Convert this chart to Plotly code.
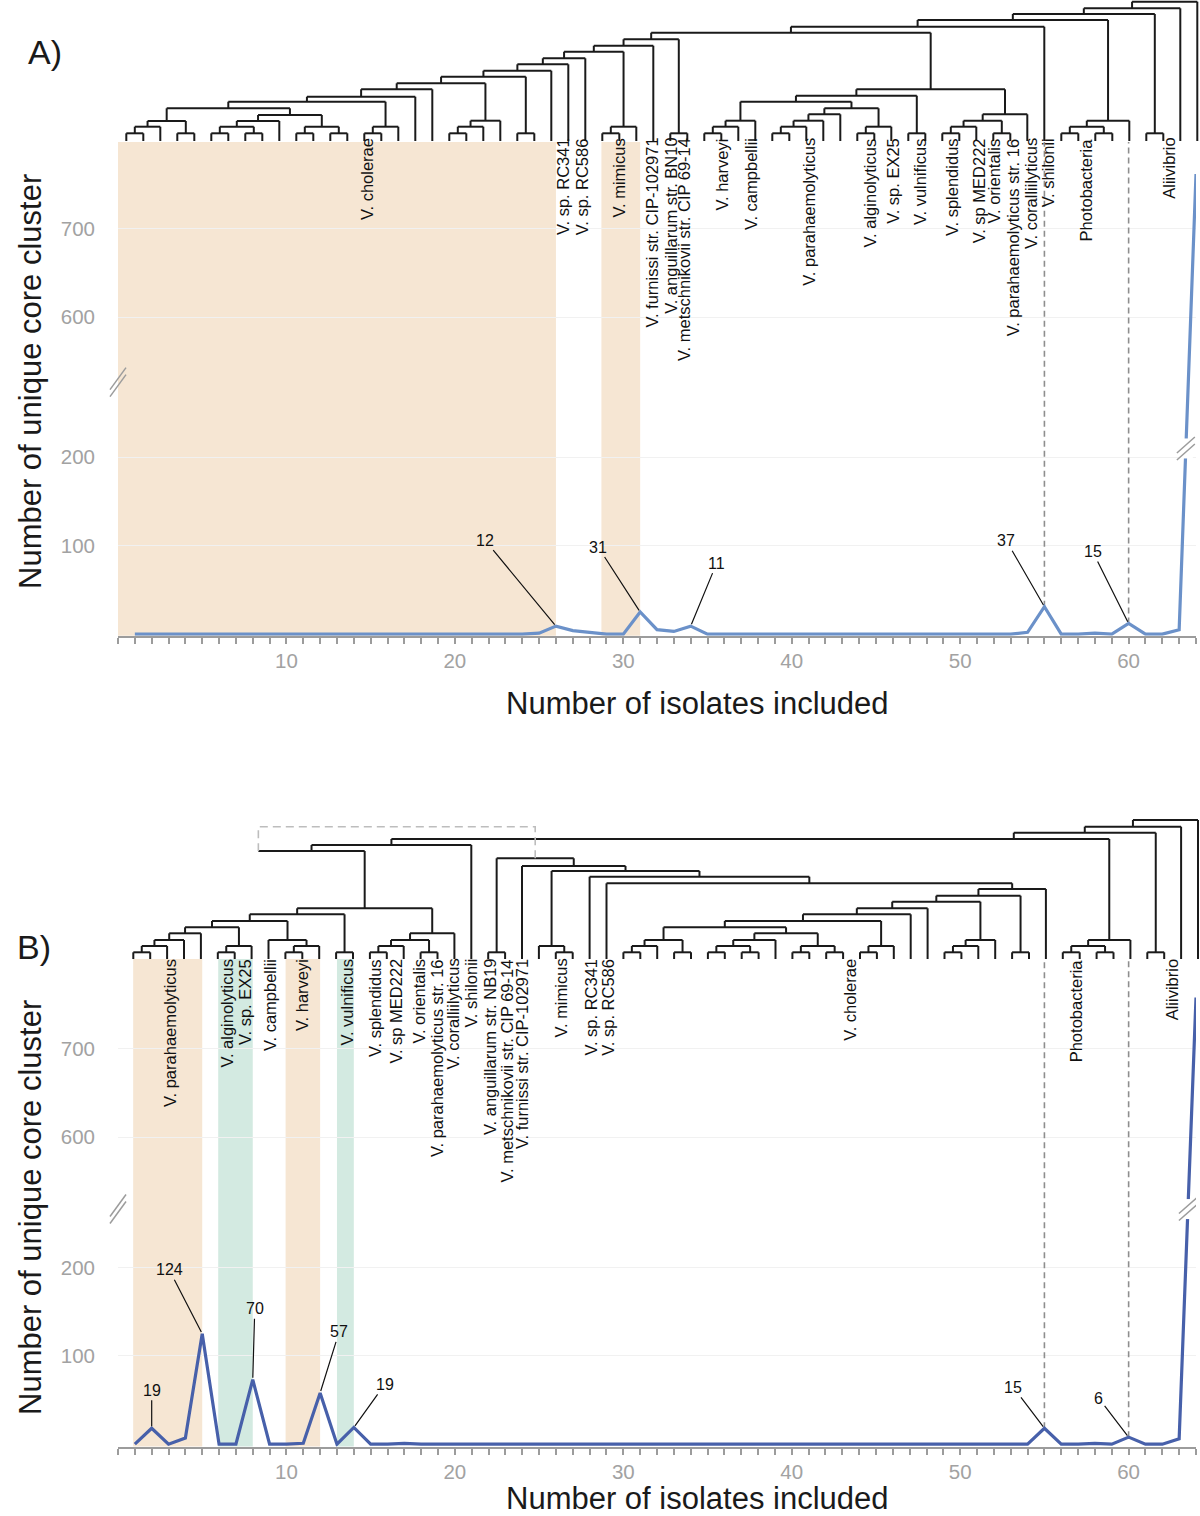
import plotly.graph_objects as go

W, H = 1200, 1516

# ======================= DATA =======================
ISOLATES = list(range(1, 65))

# unique core clusters per number of isolates
CORE_A = ([0] * 24 + [1, 9, 4, 2, 0, 0, 25, 5, 3, 9] + [0] * 19 +
          [2, 31, 0, 0, 1, 0, 12, 0, 0, 5, 762])
CORE_B = ([0, 18, 0, 7, 125, 0, 0, 73, 0, 0, 1, 58, 0, 19, 0, 0, 1] + [0] * 36 +
          [0, 18, 0, 0, 1, 0, 8, 0, 0, 6, 758])

PEAK_X_A = [26, 31, 34, 55, 60]
PEAK_TEXT_A = ["12", "31", "11", "37", "15"]
PEAK_X_B = [2, 5, 8, 12, 14, 55, 60]
PEAK_TEXT_B = ["19", "124", "70", "57", "19", "15", "6"]

GUIDE_X = [55, 60]
Y_TICKS = [100, 200, 600, 700]
X_LABELLED = [10, 20, 30, 40, 50, 60]

SHADE_A = [(0, 26, "orange"), (28.7, 31, "orange")]
SHADE_B = [(0.9, 5, "orange"), (5.95, 8, "green"), (9.95, 12, "orange"), (13, 14, "green")]

TAXA_A = ["V. cholerae", "V. sp. RC341", "V. sp. RC586", "V. mimicus",
          "V. furnissi str. CIP-102971", "V. anguillarum str. BN10",
          "V. metschnikovii str. CIP 69-14", "V. harveyi", "V. campbellii",
          "V. parahaemolyticus", "V. alginolyticus", "V. sp. EX25", "V. vulnificus",
          "V. splendidus", "V. sp MED222", "V. orientalis",
          "V. parahaemolyticus str. 16", "V. coralliilyticus", "V. shilonii",
          "Photobacteria", "Aliivibrio"]
TAXA_LEAF_A = [15.16, 26.66, 27.79, 29.98, 31.9, 33.03, 33.77, 36.07, 37.75, 41.14,
               44.74, 46.09, 47.66, 49.57, 51.15, 52.04, 53.18, 54.19, 55.21, 57.45, 62.29]

TAXA_B = ["V. parahaemolyticus", "V. alginolyticus", "V. sp. EX25", "V. campbellii",
          "V. harveyi", "V. vulnificus", "V. splendidus", "V. sp MED222", "V. orientalis",
          "V. parahaemolyticus str. 16", "V. coralliilyticus", "V. shilonii",
          "V. anguillarum str. NB19", "V. metschnikovii str. CIP 69-14",
          "V. furnissi str. CIP-102971", "V. mimicus", "V. sp. RC341", "V. sp. RC586",
          "V. cholerae", "Photobacteria", "Aliivibrio"]
TAXA_LEAF_B = [3.17, 6.49, 7.61, 9.09, 10.98, 13.59, 15.3, 16.49, 17.85, 18.97, 19.86,
               20.93, 22.1, 23.11, 24.0, 26.25, 28.03, 29.04, 43.4, 56.77, 62.45]

# dendrograms: [height, left, right(, node position)] ; leaves = isolate index
TREE_A = [139.3, [132.7, [127.0, [121.0, [114.3, [108.3,
    [101.7, [95.3, [89.3, [82.7, [76.7, [70.3, [64.3, [57.7, [51.7, [44.3, [39.3,
        [32.7, [20.0, [14.3, [7.7, 1, 2], 3], [7.7, 4, 5]],
               [26.0, [20.0, [14.3, [7.7, 6, 7], [7.7, 8, 9]], 10],
                      [14.3, [7.7, 11, 12], [7.7, 13, 14]]]],
        [14.3, [7.7, 15, 16], 17]], 18], 19],
        [20.3, [14.3, [7.7, 20, 21], 22], 23]],
        [7.7, 24, 25]], 26], 27], 28],
        [14.3, [7.7, 29, 30], 31]], 32], [7.7, 33, 34]],
    [51.7, [45.3, [39.3, [20.3, [14.3, [7.7, 35, 36], 37], 38],
                         [32.7, [26.7, [20.3, [14.3, [7.7, 39, 40], 41], 42], 43],
                                [14.3, [7.7, 44, 45], 46]]],
                  [7.7, 47, 48]],
           [26.7, [20.3, [14.3, [7.7, 49, 50], 51], [7.7, 52, 53]], 54]]],
    55],
    [20.3, [14.3, [7.7, 56, 57], [7.7, 58, 59]], 60]],
    [7.7, 61, 62]], 63], 64]

CHOLERAE_B = [70.0, [63.3, [57.3, [50.7, [44.7, [38.0,
    [31.7, [19.0, [13.0, [6.7, 30, 31], 32], [6.7, 33, 34]],
           [25.7, [19.0, [13.0, [6.7, 35, 36], [6.7, 37, 38]], 39],
                  [13.0, [6.7, 40, 41], [6.7, 42, 43]]]],
    [13.0, [6.7, 44, 45], 46]], 47], 48],
    [19.0, [13.0, [6.7, 49, 50], 51], 52]],
    [6.7, 53, 54]], 55]
CLADE_B = [100.7, [6.7, 22, 23],
           [93.0, 24, [88.0, [13.0, 25, [6.7, 26, 27]],
                       [82.3, 28, [75.7, 29, CHOLERAE_B]]]]]
LEFT_B = [50.7,
          [44.7, [38.0, [31.7, [25.7, [19.0, [13.0, [6.7, 1, 2], 3], 4], 5],
                               [13.0, [6.7, 6, 7], 8]],
                        [19.0, 9, [13.0, [6.7, 10, 11], 12]]],
                 [6.7, 13, 14]],
          [25.7, [19.0, [13.0, [6.7, 15, 16], 17], [6.7, 18, 19]], 20]]
# moved clade (dashed link): corner position / height of the dashed box
LINK_B = {"tree": CLADE_B, "x": 8.4, "top": 132.3}
TREE_B = [139.0, [132.3, [126.3, [120.0, [114.0, [108.0, LINK_B, LEFT_B], 21],
                                   [19.0, [13.0, [6.7, 56, 57], [6.7, 58, 59]], 60], 53.1],
                          [6.7, 61, 62]], 63], 64]

# ======================= STYLE / LAYOUT =======================
FONT = "Liberation Sans, Arial, Helvetica, sans-serif"
COL = {"A": "#6B91C9", "B": "#4760AA"}
SHADE_COL = {"orange": "#F6E6D3", "green": "#D3EAE1"}
TICK_GREY = "#A2A2A2"
AXIS_GREY = "#9C9C9C"
B1, B2 = 250.0, 560.0

P = {
    "A": dict(xa="x", ya="y", xd="x2", yd="y2", top=142, bottom=635.7, zero=634.1,
              ppu=0.884, off=241.5, dtop=0, dbot=146, dbase=141, leaf1=126.3, step=17.0,
              label_top=136, axis_brk=285, line_brk=210, ytitle=382, xtitle=703,
              letter=("A)", 26, 31), core=CORE_A, peaks=PEAK_X_A, ptext=PEAK_TEXT_A,
              poff=[(-71, -86), (-42, -65), (26, -63), (-38, -66), (-36, -72)],
              shade=SHADE_A, taxa=TAXA_A, tleaf=TAXA_LEAF_A, tree=TREE_A),
    "B": dict(xa="x3", ya="y3", xd="x4", yd="y4", top=959, bottom=1446.5, zero=1444.2,
              ppu=0.884, off=252.7, dtop=812, dbot=964, dbase=959, leaf1=133.3, step=16.9,
              label_top=957, axis_brk=266, line_brk=266, ytitle=1208, xtitle=1498,
              letter=("B)", 15, 926), core=CORE_B, peaks=PEAK_X_B, ptext=PEAK_TEXT_B,
              poff=[(0, -38), (-33, -64), (2, -71), (19, -61), (31, -43), (-31, -41), (-30, -39)],
              shade=SHADE_B, taxa=TAXA_B, tleaf=TAXA_LEAF_B, tree=TREE_B),
}


def squash(v, off):
    if v <= B1:
        return v
    if v >= B2:
        return v - off
    return B1 + (v - B1) * ((B2 - off) - B1) / (B2 - B1)


def layout_tree(node, segs, dsegs):
    if isinstance(node, (int, float)):
        return ("pt", float(node), 0.0)
    if isinstance(node, dict):
        _, sx, sh = layout_tree(node["tree"], segs, dsegs)
        return ("link", sx, sh, node["x"], node["top"])
    h = node[0]
    xs = []
    for child in (node[1], node[2]):
        r = layout_tree(child, segs, dsegs)
        if r[0] == "link":
            _, sx, sh, lx, top = r
            dsegs += [(sx, sh), (sx, top), (lx, top), (lx, h), None]
            xs.append(lx)
        else:
            _, cx, ch = r
            segs += [(cx, ch), (cx, h), None]
            xs.append(cx)
    segs += [(xs[0], h), (xs[1], h), None]
    x = node[3] if len(node) > 3 else (xs[0] + xs[1]) / 2
    return ("pt", x, h)


def unzip(segs):
    xs, ys = [], []
    for s in segs:
        if s is None:
            xs.append(None)
            ys.append(None)
        else:
            xs.append(s[0])
            ys.append(s[1])
    return xs, ys


fig = go.Figure()
layout = dict(width=W, height=H, margin=dict(l=0, r=0, t=0, b=0), showlegend=False,
              paper_bgcolor="white", plot_bgcolor="rgba(0,0,0,0)",
              font=dict(family=FONT, color="#111111"))
shapes, annots = [], []

for key in ("A", "B"):
    p = P[key]
    xa, ya, xd, yd = p["xa"], p["ya"], p["xd"], p["yd"]
    xn = lambda a: "xaxis" + a[1:]
    yn = lambda a: "yaxis" + a[1:]
    f_bot = (p["zero"] - p["bottom"]) / p["ppu"]
    f_top = (p["zero"] - p["top"]) / p["ppu"]

    # ---- data axes ----
    layout[xn(xa)] = dict(domain=[118 / W, 1196 / W], range=[0, 64], anchor=ya,
                          showgrid=False, zeroline=False, showline=True,
                          linecolor=AXIS_GREY, linewidth=2, ticks="outside", ticklen=6,
                          tickwidth=1.5, tickcolor=AXIS_GREY, tickmode="array",
                          tickvals=list(range(0, 65)),
                          ticktext=[str(v) if v in X_LABELLED else "" for v in range(0, 65)],
                          tickfont=dict(size=20.5, color=TICK_GREY, family=FONT))
    layout[yn(ya)] = dict(domain=[1 - p["bottom"] / H, 1 - p["top"] / H],
                          range=[f_bot, f_top], anchor=xa, showgrid=True,
                          gridcolor="#F1F1F1", gridwidth=1, zeroline=False, showline=False,
                          ticks="", tickmode="array",
                          tickvals=[squash(v, p["off"]) for v in Y_TICKS],
                          ticktext=[str(v) for v in Y_TICKS], ticklabelstandoff=22,
                          tickfont=dict(size=20.5, color=TICK_GREY, family=FONT))
    # ---- dendrogram axes ----
    layout[xn(xd)] = dict(domain=[100 / W, 1.0], anchor=yd, visible=False,
                          range=[1 + (100 - p["leaf1"]) / p["step"],
                                 1 + (1200 - p["leaf1"]) / p["step"]])
    layout[yn(yd)] = dict(domain=[1 - p["dbot"] / H, 1 - p["dtop"] / H], anchor=xd,
                          visible=False,
                          range=[p["dbase"] - p["dbot"], p["dbase"] - p["dtop"]])

    # ---- shading ----
    for x0, x1, c in p["shade"]:
        shapes.append(dict(type="rect", xref=xa, yref=ya + " domain", x0=x0, x1=x1,
                           y0=0, y1=1, fillcolor=SHADE_COL[c], line=dict(width=0),
                           layer="below"))

    core = p["core"]
    fvals = [squash(v, p["off"]) for v in core]

    # ---- dashed guides ----
    for gx in GUIDE_X:
        fig.add_trace(go.Scatter(x=[gx, gx], y=[fvals[gx - 1], f_top], xaxis=xa, yaxis=ya,
                                 mode="lines", hoverinfo="skip",
                                 line=dict(color="#8E8E8E", width=1.6, dash="6px,4px")))

    # ---- main line ----
    fig.add_trace(go.Scatter(x=ISOLATES, y=fvals, xaxis=xa, yaxis=ya, mode="lines",
                             hoverinfo="skip", line=dict(color=COL[key], width=3.2)))

    # ---- peak labels ----
    for (px_, txt, (ax, ay)) in zip(p["peaks"], p["ptext"], p["poff"]):
        annots.append(dict(x=px_, y=fvals[px_ - 1], xref=xa, yref=ya, text=txt,
                           showarrow=True, arrowhead=0, arrowwidth=1.2,
                           arrowcolor="#111111", ax=ax, ay=ay, standoff=2,
                           font=dict(size=16, color="#111111", family=FONT)))

    # ---- dendrogram ----
    segs, dsegs = [], []
    layout_tree(p["tree"], segs, dsegs)
    sx, sy = unzip(segs)
    fig.add_trace(go.Scatter(x=sx, y=sy, xaxis=xd, yaxis=yd, mode="lines",
                             hoverinfo="skip", line=dict(color="#1A1A1A", width=2)))
    if dsegs:
        dx, dy = unzip(dsegs)
        fig.add_trace(go.Scatter(x=dx, y=dy, xaxis=xd, yaxis=yd, mode="lines",
                                 hoverinfo="skip",
                                 line=dict(color="#BDBDBD", width=1.6, dash="8px,5px")))

    # ---- taxon labels ----
    for name, lx in zip(p["taxa"], p["tleaf"]):
        annots.append(dict(x=lx, xref=xd, y=1 - p["label_top"] / H, yref="paper",
                           text=name, showarrow=False, textangle=-90,
                           xanchor="center", yanchor="top",
                           font=dict(size=16.5, color="#111111", family=FONT)))

    # ---- axis break marks ----
    for dyo in (-3.5, 3.5):
        shapes.append(dict(type="line", xref="paper", xanchor=118 / W, xsizemode="pixel",
                           yref=ya, yanchor=p["axis_brk"], ysizemode="pixel",
                           x0=-8, x1=8, y0=-11 + dyo, y1=11 + dyo,
                           line=dict(color=AXIS_GREY, width=1.5)))
    # break on the steep final segment of the line
    fb = p["line_brk"]
    xb = 63 + (fb - fvals[62]) / (fvals[63] - fvals[62])
    shapes.append(dict(type="rect", xref=xa, xanchor=xb, xsizemode="pixel",
                       yref=ya, yanchor=fb, ysizemode="pixel", x0=-7, x1=7, y0=-10, y1=10,
                       fillcolor="white", line=dict(width=0)))
    for dyo in (-3.5, 3.5):
        shapes.append(dict(type="line", xref=xa, xanchor=xb, xsizemode="pixel",
                           yref=ya, yanchor=fb, ysizemode="pixel",
                           x0=-9, x1=9, y0=-8 + dyo, y1=8 + dyo,
                           line=dict(color=AXIS_GREY, width=1.5)))

    # ---- titles ----
    annots.append(dict(x=30 / W, y=1 - p["ytitle"] / H, xref="paper", yref="paper",
                       text="Number of unique core cluster", textangle=-90, showarrow=False,
                       xanchor="center", yanchor="middle",
                       font=dict(size=31, color="#1A1A1A", family=FONT)))
    annots.append(dict(x=697 / W, y=1 - p["xtitle"] / H, xref="paper", yref="paper",
                       text="Number of isolates included", showarrow=False,
                       xanchor="center", yanchor="middle",
                       font=dict(size=31, color="#1A1A1A", family=FONT)))
    letter, lxp, lyp = p["letter"]
    annots.append(dict(x=lxp / W, y=1 - lyp / H, xref="paper", yref="paper", text=letter,
                       showarrow=False, xanchor="left", yanchor="top",
                       font=dict(size=34, color="#1A1A1A", family=FONT)))

layout["shapes"] = shapes
layout["annotations"] = annots
fig.update_layout(**layout)
fig.write_html("out.html", config={"displayModeBar": False},
               post_script="document.body.style.margin='0';document.body.style.overflow='hidden';")
